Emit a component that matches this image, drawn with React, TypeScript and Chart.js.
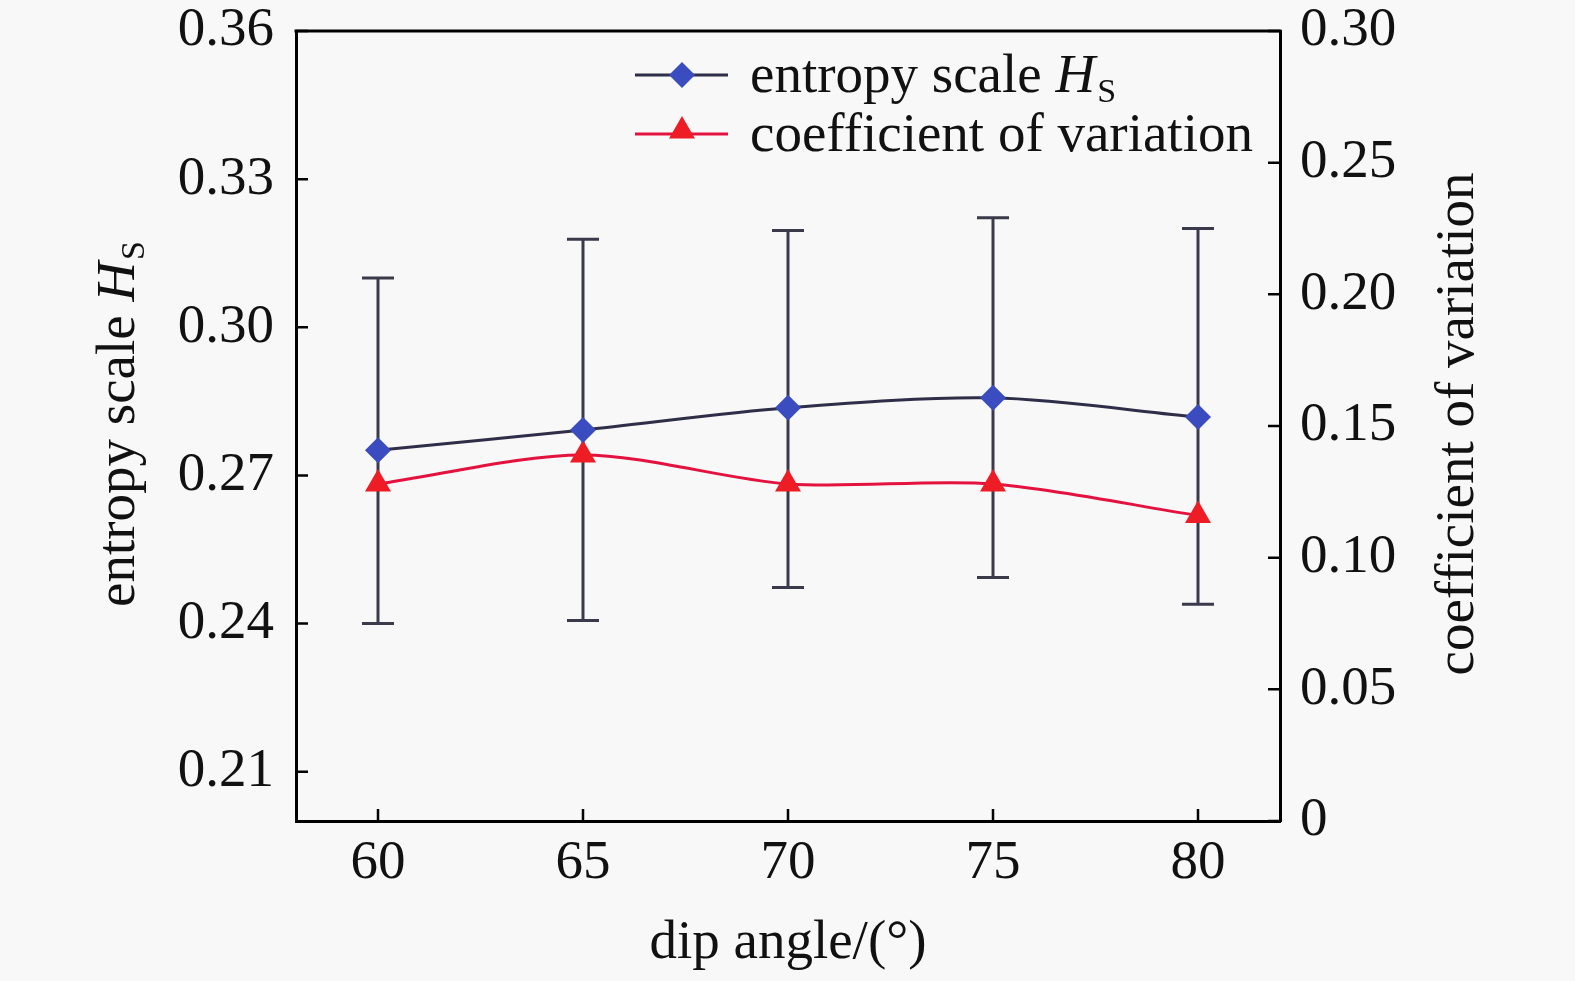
import React, { useEffect, useRef } from 'react';
import { Chart, registerables } from 'chart.js';
Chart.register(...registerables);

const dipAngles = [60, 65, 70, 75, 80];
const entropyScale = [0.2751, 0.2792, 0.2837, 0.2857, 0.2818];
const entropyUpper = [0.31, 0.3178, 0.3196, 0.3222, 0.32];
const entropyLower = [0.24, 0.2406, 0.2473, 0.2493, 0.2439];
const coefVariation = [0.128, 0.139, 0.128, 0.128, 0.116];
const xTicks = [60, 65, 70, 75, 80];
const leftTicks = [0.21, 0.24, 0.27, 0.3, 0.33, 0.36];
const rightTicks = [0, 0.05, 0.1, 0.15, 0.2, 0.25, 0.3];

const FONT = "'Liberation Serif', 'DejaVu Serif', serif";
const FS = 55;
const BG = '#f8f8f8';
const BLUE_LINE = '#2e2e48';
const BLUE = '#3b4cc0';
const RED_LINE = '#e3123f';
const RED = '#ee1c25';
const ERR = '#3a3a4a';

function drawDiamond(ctx: CanvasRenderingContext2D, x: number, y: number, r: number) {
  ctx.beginPath();
  ctx.moveTo(x, y - r);
  ctx.lineTo(x + r, y);
  ctx.lineTo(x, y + r);
  ctx.lineTo(x - r, y);
  ctx.closePath();
  ctx.fill();
}
function drawTriangle(ctx: CanvasRenderingContext2D, x: number, y: number, r: number) {
  ctx.beginPath();
  ctx.moveTo(x, y - r);
  ctx.lineTo(x + r * 0.866, y + r * 0.5);
  ctx.lineTo(x - r * 0.866, y + r * 0.5);
  ctx.closePath();
  ctx.fill();
}

function drawHs(ctx: CanvasRenderingContext2D, prefix: string, x: number, y: number, align: 'center' | 'left') {
  ctx.textBaseline = 'alphabetic';
  ctx.textAlign = 'left';
  ctx.font = `${FS}px ${FONT}`;
  const w1 = ctx.measureText(prefix).width;
  ctx.font = `italic ${FS}px ${FONT}`;
  const wH = ctx.measureText('H').width;
  ctx.font = `${Math.round(FS * 0.62)}px ${FONT}`;
  const wS = ctx.measureText('S').width;
  const total = w1 + wH + 2 + wS;
  let sx = align === 'center' ? x - total / 2 : x;
  ctx.font = `${FS}px ${FONT}`;
  ctx.fillText(prefix, sx, y);
  sx += w1;
  ctx.font = `italic ${FS}px ${FONT}`;
  ctx.fillText('H', sx, y);
  sx += wH + 2;
  ctx.font = `${Math.round(FS * 0.62)}px ${FONT}`;
  ctx.fillText('S', sx, y + 10);
}

const decorPlugin = {
  id: 'decor',
  beforeDraw(chart: any) {
    const { ctx, width, height } = chart;
    ctx.save();
    ctx.fillStyle = BG;
    ctx.fillRect(0, 0, width, height);
    ctx.restore();
  },
  beforeDatasetsDraw(chart: any) {
    const { ctx, scales } = chart;
    const x = scales.x;
    const y = scales.y;
    ctx.save();
    ctx.strokeStyle = ERR;
    ctx.lineWidth = 3;
    dipAngles.forEach((a, i) => {
      const px = x.getPixelForValue(a);
      const top = y.getPixelForValue(entropyUpper[i]);
      const bot = y.getPixelForValue(entropyLower[i]);
      ctx.beginPath();
      ctx.moveTo(px, top);
      ctx.lineTo(px, bot);
      ctx.moveTo(px - 16, top);
      ctx.lineTo(px + 16, top);
      ctx.moveTo(px - 16, bot);
      ctx.lineTo(px + 16, bot);
      ctx.stroke();
    });
    ctx.restore();
  },
  afterDraw(chart: any) {
    const { ctx, chartArea, scales } = chart;
    const { left, right, top, bottom } = chartArea;
    ctx.save();
    ctx.strokeStyle = '#000';
    ctx.lineWidth = 3;
    ctx.beginPath();
    ctx.moveTo(left - 1.5, top);
    ctx.lineTo(right + 1.5, top);
    ctx.stroke();
    ctx.lineWidth = 2.5;
    const TL = 12;
    ctx.beginPath();
    leftTicks.forEach((v) => {
      const py = scales.y.getPixelForValue(v);
      ctx.moveTo(left, py);
      ctx.lineTo(left + TL, py);
    });
    rightTicks.forEach((v) => {
      const py = scales.y1.getPixelForValue(v);
      ctx.moveTo(right, py);
      ctx.lineTo(right - TL, py);
    });
    xTicks.forEach((v) => {
      const px = scales.x.getPixelForValue(v);
      ctx.moveTo(px, bottom);
      ctx.lineTo(px, bottom - TL);
    });
    ctx.stroke();

    ctx.fillStyle = '#111';
    ctx.font = `${FS}px ${FONT}`;
    ctx.textAlign = 'center';
    ctx.textBaseline = 'middle';
    ctx.fillText('dip angle/(°)', (left + right) / 2, 944);

    ctx.save();
    ctx.translate(1459, 424);
    ctx.rotate(-Math.PI / 2);
    ctx.font = `${FS}px ${FONT}`;
    ctx.textAlign = 'center';
    ctx.textBaseline = 'middle';
    ctx.fillText('coefficient of variation', 0, 0);
    ctx.restore();

    ctx.save();
    ctx.translate(115, 424);
    ctx.rotate(-Math.PI / 2);
    drawHs(ctx, 'entropy scale ', 0, 19, 'center');
    ctx.restore();

    const lx0 = 635, lx1 = 728, lm = 682;
    const r1 = 75, r2 = 134;
    ctx.lineWidth = 3;
    ctx.strokeStyle = BLUE_LINE;
    ctx.beginPath();
    ctx.moveTo(lx0, r1);
    ctx.lineTo(lx1, r1);
    ctx.stroke();
    ctx.fillStyle = BLUE;
    drawDiamond(ctx, lm, r1, 13);
    ctx.strokeStyle = RED_LINE;
    ctx.beginPath();
    ctx.moveTo(lx0, r2);
    ctx.lineTo(lx1, r2);
    ctx.stroke();
    ctx.fillStyle = RED;
    drawTriangle(ctx, lm, r2 - 3, 15);

    ctx.fillStyle = '#111';
    drawHs(ctx, 'entropy scale ', 750, r1 + 17, 'left');
    ctx.font = `${FS}px ${FONT}`;
    ctx.textAlign = 'left';
    ctx.textBaseline = 'alphabetic';
    ctx.fillText('coefficient of variation', 750, r2 + 17);
    ctx.restore();
  },
};

const zeroPad = (s: any) => {
  s.paddingTop = 0;
  s.paddingBottom = 0;
  s.paddingLeft = 0;
  s.paddingRight = 0;
};

export default function App() {
  const ref = useRef<HTMLCanvasElement>(null);
  useEffect(() => {
    document.body.style.margin = '0';
    document.body.style.background = BG;
    const canvas = ref.current!;
    const chart = new Chart(canvas, {
      type: 'line',
      data: {
        datasets: [
          {
            label: 'entropy scale HS',
            data: dipAngles.map((a, i) => ({ x: a, y: entropyScale[i] })),
            yAxisID: 'y',
            borderColor: BLUE_LINE,
            backgroundColor: BLUE,
            borderWidth: 3,
            pointStyle: 'rectRot',
            pointRadius: 13,
            pointBorderWidth: 0,
            pointBackgroundColor: BLUE,
            tension: 0.3,
          },
          {
            label: 'coefficient of variation',
            data: dipAngles.map((a, i) => ({ x: a, y: coefVariation[i] })),
            yAxisID: 'y1',
            borderColor: RED_LINE,
            backgroundColor: RED,
            borderWidth: 3,
            pointStyle: 'triangle',
            pointRadius: 15,
            pointBorderWidth: 0,
            pointBackgroundColor: RED,
            tension: 0.3,
          },
        ],
      },
      options: {
        responsive: false,
        animation: false,
        devicePixelRatio: 1,
        layout: { padding: { top: 31, left: 0, right: 0, bottom: 0 } },
        plugins: { legend: { display: false }, tooltip: { enabled: false }, title: { display: false } },
        scales: {
          x: {
            type: 'linear',
            min: 58,
            max: 82,
            afterBuildTicks: (s: any) => {
              s.ticks = xTicks.map((v) => ({ value: v }));
            },
            afterFit: (s: any) => {
              s.height = 160;
              zeroPad(s);
            },
            grid: { display: false, drawTicks: false },
            border: { display: true, width: 3, color: '#000' },
            ticks: {
              color: '#111',
              font: { family: FONT, size: FS },
              padding: 10,
              maxRotation: 0,
              callback: (v: any) => String(v),
            },
          },
          y: {
            type: 'linear',
            position: 'left',
            min: 0.2,
            max: 0.36,
            afterBuildTicks: (s: any) => {
              s.ticks = leftTicks.map((v) => ({ value: v }));
            },
            afterFit: (s: any) => {
              s.width = 296;
              zeroPad(s);
            },
            grid: { display: false, drawTicks: false },
            border: { display: true, width: 3, color: '#000' },
            ticks: {
              color: '#111',
              font: { family: FONT, size: FS },
              padding: 22,
              callback: (v: any) => Number(v).toFixed(2),
            },
          },
          y1: {
            type: 'linear',
            position: 'right',
            min: 0,
            max: 0.3,
            afterBuildTicks: (s: any) => {
              s.ticks = rightTicks.map((v) => ({ value: v }));
            },
            afterFit: (s: any) => {
              s.width = 295;
              zeroPad(s);
            },
            grid: { display: false, drawTicks: false },
            border: { display: true, width: 3, color: '#000' },
            ticks: {
              color: '#111',
              font: { family: FONT, size: FS },
              padding: 20,
              callback: (v: any) => (Number(v) === 0 ? '0' : Number(v).toFixed(2)),
            },
          },
        },
      } as any,
      plugins: [decorPlugin],
    });
    return () => chart.destroy();
  }, []);
  return (
    <div style={{ width: 1575, height: 981, background: BG }}>
      <canvas ref={ref} width={1575} height={981} style={{ display: 'block', width: 1575, height: 981 }} />
    </div>
  );
}
